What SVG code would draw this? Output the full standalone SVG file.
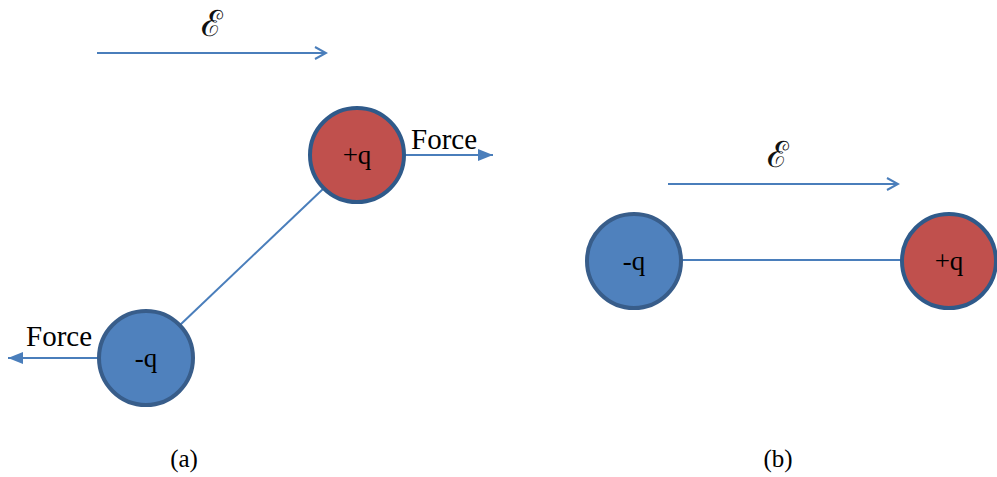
<svg xmlns="http://www.w3.org/2000/svg" width="997" height="477" viewBox="0 0 997 477">
  <style>
    .lbl { font-family: "Liberation Serif", "Times New Roman", serif; font-size: 27px; fill: #000; }
    .force { font-family: "Liberation Serif", "Times New Roman", serif; font-size: 29px; fill: #000; }
    .cap { font-family: "Liberation Serif", "Times New Roman", serif; font-size: 25px; fill: #000; }
    .field { font-family: "DejaVu Serif", "Liberation Serif", serif; font-size: 36px; fill: #111; }
    .link { stroke: #4A7EBB; stroke-width: 2; fill: none; }
    .pos { fill: #C0504D; stroke: #2F5A8A; stroke-width: 4; }
    .neg { fill: #4F81BD; stroke: #385D8A; stroke-width: 4; }
  </style>
  <defs>
    <marker id="open" markerWidth="14" markerHeight="14" refX="12" refY="7" orient="auto" markerUnits="userSpaceOnUse">
      <path d="M1,1 L12,7 L1,13" fill="none" stroke="#4A7EBB" stroke-width="2"/>
    </marker>
    <marker id="solid" markerWidth="16" markerHeight="12" refX="15" refY="6" orient="auto" markerUnits="userSpaceOnUse">
      <path d="M0,0 L15,6 L0,12 Z" fill="#4A7EBB"/>
    </marker>
  </defs>

  <!-- connectors -->
  <g id="connectors">
    <line class="link" x1="97" y1="53" x2="326" y2="53" marker-end="url(#open)"/>
    <line class="link" x1="180" y1="325" x2="323" y2="189"/>
    <line class="link" x1="405" y1="155" x2="493" y2="155" marker-end="url(#solid)"/>
    <line class="link" x1="98" y1="358" x2="8" y2="358" marker-end="url(#solid)"/>
    <line class="link" x1="668" y1="184" x2="898" y2="184" marker-end="url(#open)"/>
    <line class="link" x1="682" y1="260" x2="901" y2="260"/>
  </g>

  <!-- panel (a) -->
  <text class="field" x="212" y="36" text-anchor="middle">ℰ</text>
  <g id="pos-a">
    <circle class="pos" cx="357" cy="155" r="47"/>
    <text class="lbl" x="357" y="164" text-anchor="middle">+q</text>
  </g>
  <g id="neg-a">
    <circle class="neg" cx="146" cy="358" r="47"/>
    <text class="lbl" x="146" y="367" text-anchor="middle">-q</text>
  </g>
  <text class="force" x="411" y="149">Force</text>
  <text class="force" x="26" y="346">Force</text>
  <text class="cap" x="184" y="467" text-anchor="middle">(a)</text>

  <!-- panel (b) -->
  <text class="field" x="778" y="167" text-anchor="middle">ℰ</text>
  <g id="neg-b">
    <circle class="neg" cx="634" cy="261" r="47"/>
    <text class="lbl" x="634" y="270" text-anchor="middle">-q</text>
  </g>
  <g id="pos-b">
    <circle class="pos" cx="949" cy="261" r="47"/>
    <text class="lbl" x="949" y="270" text-anchor="middle">+q</text>
  </g>
  <text class="cap" x="778" y="467" text-anchor="middle">(b)</text>
</svg>
